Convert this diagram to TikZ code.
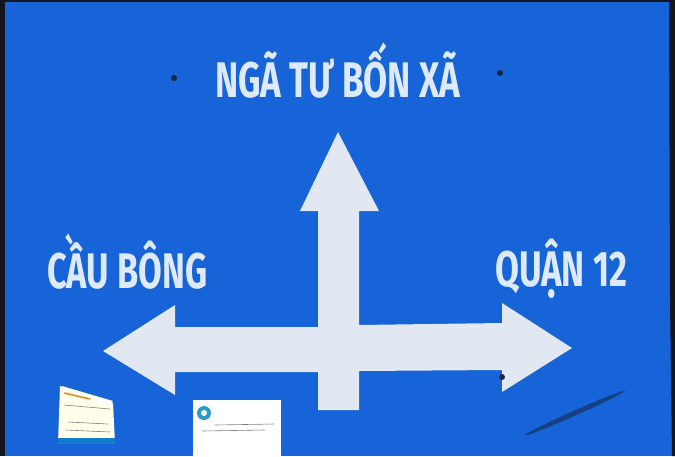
\documentclass[tikz,border=0pt]{standalone}
\usepackage{fontspec}
\setmainfont{Fira Sans}
\usepackage{graphicx}
\definecolor{signblue}{RGB}{22,100,216}
\definecolor{arrowwhite}{RGB}{226,232,242}
\definecolor{textwhite}{RGB}{222,234,250}
\definecolor{edgedark}{RGB}{20,22,30}
\tikzset{
  signtext/.style={inner sep=0pt, text=textwhite, font=\fontsize{50}{50}\selectfont\bfseries},
  arrowshape/.style={fill=arrowwhite, draw=none},
  bolt/.style={fill=edgedark!80!signblue, draw=none},
}
\begin{document}
\begin{tikzpicture}[x=1pt,y=-1pt]
\useasboundingbox (0,0) rectangle (675,456);
% background
\fill[signblue] (0,0) rectangle (675,456);
\fill[edgedark] (0,0) rectangle (5,456);
\fill[edgedark] (0,0) rectangle (675,1.5);
\fill[edgedark] (669,0) -- (675,0) -- (675,456) -- (672,456) -- (670,300) -- cycle;
% arrows (cross)
\path[arrowshape] (175,327) -- (318,327) -- (318,211) -- (300,211) -- (338,132)
  -- (379,211) -- (359,211) -- (359,325) -- (502,323) -- (502,303) -- (572,348)
  -- (502,392) -- (502,370) -- (359,371) -- (359,410) -- (318,410) -- (318,372)
  -- (175,372) -- (175,395) -- (103,351) -- (175,305) -- cycle;
% bolts
\fill[bolt] (174,78) circle (3);
\fill[bolt] (500,73) circle (3);
\fill[bolt] (502,377) circle (3);
% scuff
\fill[edgedark!45!signblue, rotate around={24:(575,413)}] (575,413) ellipse (55 and 2.5);
% texts
\node[signtext, anchor=base] (top) at (337.5,97) {\resizebox{245pt}{\height}{NGÃ TƯ BỐN XÃ}};
\node[signtext, anchor=base west] (left) at (47,288) {\resizebox{160pt}{\height}{CẦU BÔNG}};
\node[signtext, anchor=base west] (right) at (495,286) {\resizebox{132pt}{\height}{QUẬN 12}};
% stickers
\fill[white!92!yellow] (60,386) -- (113,403) -- (115,443) -- (58,443) -- cycle;
\fill[white] (62,386) -- (113,401) -- (110,404) -- (62,390) -- cycle;
\draw[orange!70!brown, line width=1.5pt] (64,393) -- (90,399);
\draw[gray, line width=0.6pt] (64,405) -- (110,409);
\draw[gray, line width=0.6pt] (68,422) -- (108,424);
\draw[gray, line width=0.6pt] (66,430) -- (110,432);
\fill[cyan!60!blue] (58,438) rectangle (115,443);
\fill[white] (193,400) rectangle (281,456);
\fill[cyan!60!teal] (204,413) circle (7);
\fill[white] (204,413) circle (3);
\draw[gray, line width=0.6pt] (215,425) -- (274,424);
\draw[gray, line width=0.6pt] (202,431) -- (265,430);
\end{tikzpicture}
\end{document}
